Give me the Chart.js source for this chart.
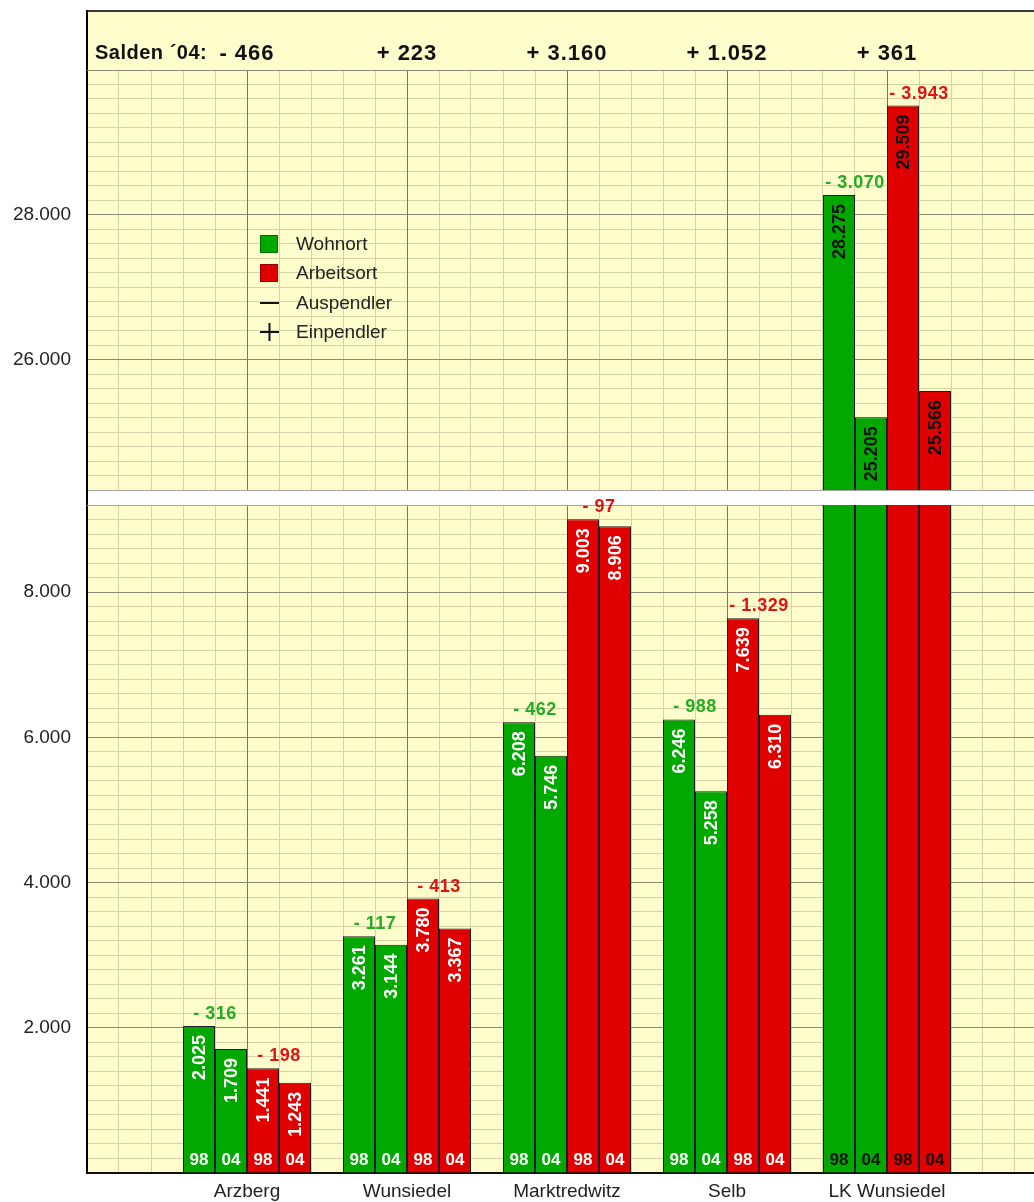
<!DOCTYPE html>
<html lang="de">
<head>
<meta charset="utf-8">
<title>Pendler nach Wohnort und Arbeitsort 1998 / 2004</title>
<script src="https://cdn.jsdelivr.net/npm/chart.js@4.4.1/dist/chart.umd.min.js"></script>
<style>
  html, body { margin: 0; padding: 0; background: #fff; overflow: hidden; }
  canvas { position: absolute; left: 0; display: block; }
  #oben { top: 0; }
  #unten { top: 491px; }
</style>
</head>
<body>
<canvas id="oben" width="1034" height="491"></canvas>
<canvas id="unten" width="1034" height="711"></canvas>
<script>
// Sozialversicherungspflichtig Beschäftigte nach Wohnort und Arbeitsort, 1998 und 2004
const orte = ['Arzberg', 'Wunsiedel', 'Marktredwitz', 'Selb', 'LK Wunsiedel'];
const wohnort98 = [2025, 3261, 6208, 6246, 28275];
const wohnort04 = [1709, 3144, 5746, 5258, 25205];
const arbeitsort98 = [1441, 3780, 9003, 7639, 29509];
const arbeitsort04 = [1243, 3367, 8906, 6310, 25566];
const jahre = ['98', '04', '98', '04'];

// Achsenbruch: zwei Ausschnitte mit eigenen Beschriftungen
const bereichUnten = [0, 9200];
const bereichOben = [24200, 30000];
const ticksUnten = [0, 2000, 4000, 6000, 8000];
const ticksOben = [26000, 28000, 30000];

const GRUEN = '#00a800';
const ROT = '#e00000';
const GRUEN_TEXT = '#22ad22';
const ROT_TEXT = '#dd1414';
const GELB = '#fffdcc';
const SCHRIFT = '"Liberation Sans", Arial, Helvetica, sans-serif';

// Saldo 2004: Arbeitsort minus Wohnort
const salden = orte.map((_, i) => arbeitsort04[i] - wohnort04[i]);

function fmt(v) {
  return String(Math.abs(v)).replace(/\B(?=(\d{3})+(?!\d))/g, '.');
}
function mitVorzeichen(v) {
  return (v < 0 ? '- ' : '+ ') + fmt(v);
}

function reihe(label, werte, farbe) {
  return {
    label: label,
    data: werte.map((v, i) => ({ x: i, y: v })),
    xAxisID: 'x',
    yAxisID: 'y',
    backgroundColor: farbe,
    borderColor: '#1c1c1c',
    borderWidth: 1,
    clip: 0
  };
}

function datensaetze() {
  return [
    reihe('Wohnort 98', wohnort98, GRUEN),
    reihe('Wohnort 04', wohnort04, GRUEN),
    reihe('Arbeitsort 98', arbeitsort98, ROT),
    reihe('Arbeitsort 04', arbeitsort04, ROT)
  ];
}

// gelber Hintergrund der Zeichenfläche
const hintergrund = {
  id: 'hintergrund',
  beforeDraw(chart) {
    const { ctx, chartArea: a } = chart;
    ctx.save();
    ctx.fillStyle = GELB;
    ctx.fillRect(a.left, a.top, a.width, a.height);
    ctx.restore();
  }
};

// Zahlen in und über den Balken
const beschriftung = {
  id: 'beschriftung',
  afterDatasetsDraw(chart, args, opts) {
    const { ctx, chartArea: a } = chart;
    const y = chart.scales.y;
    const letzter = orte.length - 1;
    ctx.save();
    ctx.beginPath();
    ctx.rect(a.left, a.top, a.width, a.height);
    ctx.clip();

    chart.data.datasets.forEach((ds, d) => {
      const meta = chart.getDatasetMeta(d);
      meta.data.forEach((bar, i) => {
        const v = ds.data[i].y;
        const dunkel = i === letzter;
        if (v > y.min && v <= y.max) {
          ctx.save();
          ctx.translate(bar.x, bar.y + 9);
          ctx.rotate(-Math.PI / 2);
          ctx.font = 'bold 18px ' + SCHRIFT;
          ctx.fillStyle = dunkel ? '#111' : '#fff';
          ctx.textAlign = 'right';
          ctx.textBaseline = 'middle';
          ctx.fillText(fmt(v), 0, 1);
          ctx.restore();
        }
        if (opts.jahre) {
          ctx.font = 'bold 17px ' + SCHRIFT;
          ctx.fillStyle = dunkel ? '#111' : '#fff';
          ctx.textAlign = 'center';
          ctx.textBaseline = 'middle';
          ctx.fillText(jahre[d], bar.x, a.bottom - 13);
        }
      });
    });
    ctx.restore();

    // Veränderung 98 -> 04 über dem jeweiligen Balkenpaar (darf in die Lücke ragen)
    ctx.save();
    ctx.font = 'bold 18px ' + SCHRIFT;
    ctx.letterSpacing = '0.5px';
    ctx.textAlign = 'center';
    ctx.textBaseline = 'alphabetic';
    [[0, 1, GRUEN_TEXT], [2, 3, ROT_TEXT]].forEach(([p, q, farbe]) => {
      const mp = chart.getDatasetMeta(p);
      const mq = chart.getDatasetMeta(q);
      orte.forEach((_, i) => {
        const vp = chart.data.datasets[p].data[i].y;
        const vq = chart.data.datasets[q].data[i].y;
        const hoch = Math.max(vp, vq);
        if (hoch <= y.min || hoch > y.max) return;
        const x = (mp.data[i].x + mq.data[i].x) / 2;
        const oben = Math.min(mp.data[i].y, mq.data[i].y);
        ctx.fillStyle = farbe;
        ctx.fillText(mitVorzeichen(vq - vp), x, oben - 7);
      });
    });
    ctx.restore();
  }
};

// Kopfzeile mit Salden und Legende (nur oberer Teil)
const kopf = {
  id: 'kopf',
  afterDraw(chart) {
    const { ctx, chartArea: a } = chart;
    const x = chart.scales.x;
    ctx.save();
    ctx.fillStyle = GELB;
    ctx.fillRect(a.left, 11, a.width, a.top - 11);
    ctx.strokeStyle = '#3a3a3a';
    ctx.lineWidth = 2;
    ctx.beginPath();
    ctx.moveTo(a.left - 1, 11);
    ctx.lineTo(a.right, 11);
    ctx.stroke();
    ctx.strokeStyle = '#000';
    ctx.beginPath();
    ctx.moveTo(a.left, 10);
    ctx.lineTo(a.left, chart.height);
    ctx.stroke();
    ctx.strokeStyle = '#8c8a74';
    ctx.lineWidth = 1;
    ctx.beginPath();
    ctx.moveTo(a.left, a.top + 0.5);
    ctx.lineTo(a.right, a.top + 0.5);
    ctx.stroke();

    ctx.fillStyle = '#111';
    ctx.textBaseline = 'alphabetic';
    ctx.font = 'bold 20px ' + SCHRIFT;
    ctx.textAlign = 'left';
    ctx.letterSpacing = '0.5px';
    ctx.fillText('Salden \u00b404:', a.left + 8, 59);
    ctx.font = 'bold 22px ' + SCHRIFT;
    ctx.textAlign = 'center';
    ctx.letterSpacing = '1px';
    salden.forEach((s, i) => {
      ctx.fillText(mitVorzeichen(s), x.getPixelForValue(i), 60);
    });
    ctx.letterSpacing = '0px';

    // Legende
    const lx = a.left + 173;
    const eintraege = [
      { art: 'feld', farbe: GRUEN, text: 'Wohnort', y: 244 },
      { art: 'feld', farbe: ROT, text: 'Arbeitsort', y: 273 },
      { art: 'minus', text: 'Auspendler', y: 303 },
      { art: 'plus', text: 'Einpendler', y: 332 }
    ];
    eintraege.forEach(e => {
      if (e.art === 'feld') {
        ctx.fillStyle = e.farbe;
        ctx.fillRect(lx, e.y - 9, 18, 18);
        ctx.strokeStyle = 'rgba(0,0,0,0.35)';
        ctx.lineWidth = 1;
        ctx.strokeRect(lx + 0.5, e.y - 8.5, 17, 17);
      } else {
        ctx.strokeStyle = '#111';
        ctx.lineWidth = 2;
        ctx.beginPath();
        ctx.moveTo(lx, e.y);
        ctx.lineTo(lx + 19, e.y);
        if (e.art === 'plus') {
          ctx.moveTo(lx + 9.5, e.y - 9);
          ctx.lineTo(lx + 9.5, e.y + 9);
        }
        ctx.stroke();
      }
      ctx.fillStyle = '#222';
      ctx.font = '19px ' + SCHRIFT;
      ctx.textAlign = 'left';
      ctx.textBaseline = 'middle';
      ctx.fillText(e.text, lx + 36, e.y + 1);
    });
    ctx.restore();
  }
};

// Kante zur Achsenunterbrechung im unteren Teil
const bruchkante = {
  id: 'bruchkante',
  beforeDatasetsDraw(chart) {
    const { ctx, chartArea: a } = chart;
    ctx.save();
    ctx.strokeStyle = '#a6a6a0';
    ctx.lineWidth = 1;
    ctx.beginPath();
    ctx.moveTo(a.left, a.top + 0.5);
    ctx.lineTo(a.right, a.top + 0.5);
    ctx.stroke();
    ctx.strokeStyle = '#000';
    ctx.lineWidth = 2;
    ctx.beginPath();
    ctx.moveTo(a.left, 0);
    ctx.lineTo(a.left, a.top);
    ctx.stroke();
    ctx.restore();
  }
};

const X_MIN = -1;
const X_MAX = 4.91875;

// Beschriftungen sollen die Zeichenfläche nicht verschieben
function ohneRand(s) {
  s.paddingTop = 0;
  s.paddingBottom = 0;
  s.paddingLeft = 0;
  s.paddingRight = 0;
}

function skalen(bereich, tickWerte, mitNamen) {
  const [yMin, yMax] = bereich;
  return {
    xg: {
      type: 'linear', position: 'bottom', min: X_MIN, max: X_MAX, offset: false,
      ticks: { display: false, stepSize: 0.2, includeBounds: false },
      grid: { color: '#d8d1a6', drawTicks: false, offset: false, z: -2 },
      border: { display: false },
      afterFit: s => { s.height = 0; ohneRand(s); }
    },
    yg: {
      type: 'linear', position: 'left', min: yMin, max: yMax,
      ticks: { display: false, stepSize: 200, includeBounds: false },
      grid: { color: '#d8d1a6', drawTicks: false, z: -2 },
      border: { display: false },
      afterFit: s => { s.width = 0; ohneRand(s); }
    },
    x: {
      type: 'linear', position: 'bottom', min: X_MIN, max: X_MAX, offset: false,
      ticks: {
        display: mitNamen,
        stepSize: 1,
        includeBounds: false,
        padding: 7,
        color: '#222',
        font: { family: SCHRIFT, size: 19 },
        callback: v => orte[v] || ''
      },
      grid: {
        drawTicks: false, offset: false, z: -1,
        color: c => (c.tick && c.tick.value >= 0 ? '#76766c' : 'rgba(0,0,0,0)')
      },
      border: mitNamen ? { color: '#111', width: 2 } : { color: '#a6a6a0', width: 1 },
      afterFit: s => { s.height = mitNamen ? 29 : 0; ohneRand(s); }
    },
    y: {
      type: 'linear', position: 'left', min: yMin, max: yMax,
      afterBuildTicks: s => { s.ticks = tickWerte.map(v => ({ value: v })); },
      ticks: {
        padding: 16,
        color: '#222',
        font: { family: SCHRIFT, size: 19 },
        callback: v => (v > 0 && v < 30000 ? fmt(v) : '')
      },
      grid: { color: '#8c8a74', drawTicks: false, z: -1 },
      border: { color: '#000', width: 2 },
      afterFit: s => { s.width = 87; ohneRand(s); }
    }
  };
}

function optionen(bereich, tickWerte, mitNamen, polster) {
  return {
    responsive: false,
    animation: false,
    devicePixelRatio: 1,
    layout: { padding: polster },
    datasets: { bar: { categoryPercentage: 0.8, barPercentage: 1, borderSkipped: 'start' } },
    scales: skalen(bereich, tickWerte, mitNamen),
    plugins: {
      legend: { display: false },
      tooltip: { enabled: false },
      beschriftung: { jahre: mitNamen }
    }
  };
}

// oberer Ausschnitt 24.200 - 30.000
new Chart(document.getElementById('oben'), {
  type: 'bar',
  data: { datasets: datensaetze() },
  options: optionen(bereichOben, ticksOben, false, { top: 70, bottom: 1, left: 0, right: 0 }),
  plugins: [hintergrund, beschriftung, kopf]
});

// unterer Ausschnitt 0 - 9.200
new Chart(document.getElementById('unten'), {
  type: 'bar',
  data: { datasets: datensaetze() },
  options: optionen(bereichUnten, ticksUnten, true, { top: 14, bottom: 0, left: 0, right: 0 }),
  plugins: [hintergrund, bruchkante, beschriftung]
});
</script>
</body>
</html>
